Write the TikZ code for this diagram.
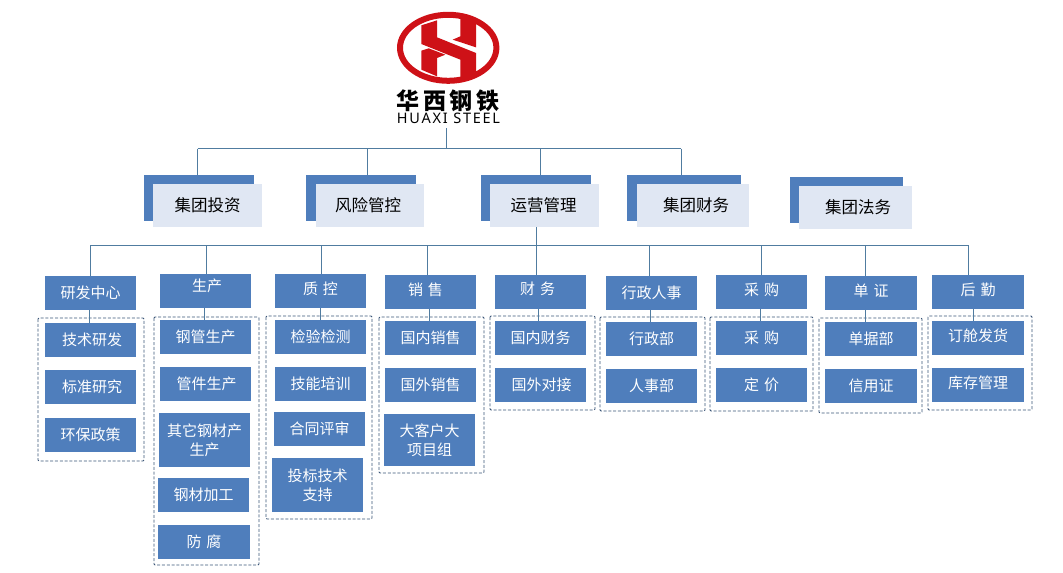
\documentclass[tikz,border=0pt]{standalone}
\usepackage{fontspec}
\setmainfont{Noto Sans CJK SC}
\newfontfamily\logolatin[LetterSpace=12]{Noto Sans}
\usepackage{xcolor}
\definecolor{unitblue}{RGB}{79,126,188}
\definecolor{paleblue}{RGB}{224,231,243}
\definecolor{linkblue}{RGB}{80,124,160}
\definecolor{groupblue}{RGB}{58,84,118}
\definecolor{logored}{RGB}{206,17,23}
\newcommand{\widthunit}{91pt}
\newcommand{\heightunit}{34pt}
\tikzset{
    common/.style={anchor=north west, inner sep=0pt, outer sep=0pt, align=center},
    unit/.style={common, fill=unitblue, text=white, minimum width=\widthunit, minimum height=\heightunit,
        font=\fontsize{15}{19}\selectfont, execute at begin node={\spaceskip=5pt\relax}},
    tall/.style={unit, minimum height=#1},
    back/.style={common, fill=unitblue, minimum height=46pt},
    front/.style={common, fill=paleblue, text=black, minimum height=43pt, font=\fontsize{16.5}{20}\selectfont},
    link/.style={draw=linkblue, line width=0.9pt},
    group/.style={draw=groupblue, line width=0.9pt, dash pattern=on 3pt off 1.8pt, rounded corners=1pt},
    lift/.style={text depth=#1}
}
\begin{document}
\begin{tikzpicture}[x=1pt, y=-1pt]
    \useasboundingbox (0,0) rectangle (1063,573);

    % logo
    \draw[logored, line width=6pt] (448.2,47.8) ellipse [x radius=48.2, y radius=33];
    \begin{scope}[shift={(392,8)}, scale=1/3]
        \fill[logored] (88,52) -- (135,37) -- (135,88) -- (252,135) -- (252,192) -- (205,216) -- (205,155) -- (88,108) -- cycle;
        \fill[logored] (205,20) -- (252,36) -- (252,118) -- (182,95) -- (205,85) -- cycle;
        \fill[logored] (88,128) -- (110,121) -- (160,140) -- (135,150) -- (135,205) -- (88,185) -- cycle;
    \end{scope}
    \node[common, anchor=center, font=\fontsize{23}{25}\selectfont\bfseries] (logo-cn) at (448,100.5)
        {华\hspace{3.5pt}西\hspace{3.5pt}钢\hspace{3.5pt}铁};
    \node[common, anchor=center, font=\fontsize{14.5}{16}\logolatin] (logo-en) at (448.5,118.5) {HUAXI STEEL};

    % junctions
    \coordinate (trunk) at (446,128);
    \coordinate (B1-1) at (197.7,148.5);
    \coordinate (B1-2) at (367.3,148.5);
    \coordinate (B1-3) at (540.3,148.5);
    \coordinate (B1-4) at (681.2,148.5);
    \coordinate (B2-1) at (90.3,245.3);
    \coordinate (B2-2) at (206.3,245.3);
    \coordinate (B2-3) at (321.3,245.3);
    \coordinate (B2-4) at (427.3,245.3);
    \coordinate (B2-5) at (536.3,245.3);
    \coordinate (B2-6) at (649.3,245.3);
    \coordinate (B2-7) at (761.3,245.3);
    \coordinate (B2-8) at (865.3,245.3);
    \coordinate (B2-9) at (968.3,245.3);

    % top row
    \node[back, minimum width=110pt] (T1-back) at (144,175) {};
    \node[front, minimum width=109pt] (T1) at (153,184) {集团投资};
    \node[back, minimum width=110pt] (T2-back) at (306,175) {};
    \node[front, minimum width=108pt] (T2) at (316,184) {风险管控\hspace*{4pt}};
    \node[back, minimum width=110pt] (T3-back) at (481,175) {};
    \node[front, minimum width=109pt] (T3) at (490,184) {运营管理\hspace*{2pt}};
    \node[back, minimum width=114pt] (T4-back) at (627,175) {};
    \node[front, minimum width=112pt] (T4) at (637,184) {\hspace*{6pt}集团财务};
    \node[back, minimum width=113pt] (T5-back) at (790,177) {};
    \node[front, minimum width=113pt] (T5) at (799,186) {\hspace*{5pt}集团法务};

    % departments
    \node[unit] (D1) at (45,276) {研发中心};
    \node[unit, lift=12pt] (D2) at (160,274) {\hspace*{3pt}生产};
    \node[unit, lift=6pt] (D3) at (275,274) {质 控};
    \node[unit, lift=6pt] (D4) at (385,275) {销 售\hspace*{10pt}};
    \node[unit, lift=7pt] (D5) at (495,275) {财 务\hspace*{6pt}};
    \node[unit] (D6) at (606,276) {行政人事};
    \node[unit, lift=5pt] (D7) at (716,275) {采 购};
    \node[unit, minimum width=92pt, lift=6pt] (D8) at (825,276) {单 证};
    \node[unit, minimum width=92pt, lift=5pt] (D9) at (932,275) {后 勤};

    % sections
    \node[unit] (D1-a) at (45,323) {\hspace*{3pt}技术研发};
    \node[unit] (D1-b) at (45,370) {\hspace*{3pt}标准研究};
    \node[unit] (D1-c) at (45,418) {环保政策};

    \node[unit] (D2-a) at (160,320) {钢管生产};
    \node[unit] (D2-b) at (160,367) {\hspace*{2pt}管件生产};
    \node[tall=54pt] (D2-c) at (159,413) {其它钢材产\\生产};
    \node[unit] (D2-d) at (158,478) {钢材加工};
    \node[unit, minimum width=92pt] (D2-e) at (158,525) {防 腐};

    \node[unit] (D3-a) at (275,320) {检验检测};
    \node[unit] (D3-b) at (275,367) {技能培训};
    \node[unit] (D3-c) at (274,412) {合同评审};
    \node[tall=54pt] (D3-d) at (272,458) {投标技术\\支持};

    \node[unit] (D4-a) at (385,321) {国内销售};
    \node[unit] (D4-b) at (385,368) {国外销售};
    \node[tall=52pt] (D4-c) at (384,414) {大客户大\\项目组};

    \node[unit] (D5-a) at (495,321) {国内财务};
    \node[unit] (D5-b) at (495,368) {\hspace*{2pt}国外对接};

    \node[unit] (D6-a) at (606,322) {行政部};
    \node[unit] (D6-b) at (606,369) {人事部};

    \node[unit] (D7-a) at (716,321) {采 购};
    \node[unit] (D7-b) at (716,368) {定 价};

    \node[unit, minimum width=92pt] (D8-a) at (825,322) {单据部};
    \node[unit, minimum width=92pt] (D8-b) at (825,369) {信用证};

    \node[unit, minimum width=92pt, lift=5pt] (D9-a) at (932,321) {订舱发货};
    \node[unit, minimum width=92pt, lift=5pt] (D9-b) at (932,368) {库存管理};

    % dashed groups
    \draw[group] (38,318) rectangle (144,461);
    \draw[group] (154,317) rectangle (259,565);
    \draw[group] (266,316) rectangle (372,519);
    \draw[group] (379,317) rectangle (484,473);
    \draw[group] (490,316) rectangle (595,410);
    \draw[group] (600,317) rectangle (705,411);
    \draw[group] (710,317) rectangle (813,411);
    \draw[group] (819,318) rectangle (922,413);
    \draw[group] (928,316) rectangle (1032,410);

    % upper lines
    \draw[link] (trunk) -- (trunk |- B1-1);
    \draw[link] (B1-1) -- (B1-4);
    \draw[link] (B1-1) -- (B1-1 |- T1-back.north);
    \draw[link] (B1-2) -- (B1-2 |- T2-back.north);
    \draw[link] (B1-3) -- (B1-3 |- T3-back.north);
    \draw[link] (B1-4) -- (B1-4 |- T4-back.north);

    \draw[link] (B2-5 |- T3.south) -- (B2-5);
    \draw[link] (B2-1) -- (B2-9);
    \draw[link] (B2-1) -- (B2-1 |- D1.north);
    \draw[link] (B2-2) -- (B2-2 |- D2.north);
    \draw[link] (B2-3) -- (B2-3 |- D3.north);
    \draw[link] (B2-4) -- (B2-4 |- D4.north);
    \draw[link] (B2-5) -- (B2-5 |- D5.north);
    \draw[link] (B2-6) -- (B2-6 |- D6.north);
    \draw[link] (B2-7) -- (B2-7 |- D7.north);
    \draw[link] (B2-8) -- (B2-8 |- D8.north);
    \draw[link] (B2-9) -- (B2-9 |- D9.north);

    % lower lines
    \draw[link] ([xshift=-1.2pt]D1.south) -- ([xshift=-1.2pt]D1-a.north);
    \draw[link] ([xshift=-1.2pt]D2.south) -- ([xshift=-1.2pt]D2-a.north);
    \draw[link] ([xshift=-0.2pt]D3.south) -- ([xshift=-0.2pt]D3-a.north);
    \draw[link] ([xshift=-1.2pt]D4.south) -- ([xshift=-1.2pt]D4-a.north);
    \draw[link] ([xshift=-2.2pt]D5.south) -- ([xshift=-2.2pt]D5-a.north);
    \draw[link] ([xshift=-1.2pt]D6.south) -- ([xshift=-1.2pt]D6-a.north);
    \draw[link] ([xshift=-1.2pt]D7.south) -- ([xshift=-1.2pt]D7-a.north);
    \draw[link] ([xshift=-5.7pt]D8.south) -- ([xshift=-5.7pt]D8-a.north);
    \draw[link] ([xshift=-4.7pt]D9.south) -- ([xshift=-4.7pt]D9-a.north);
\end{tikzpicture}
\end{document}
